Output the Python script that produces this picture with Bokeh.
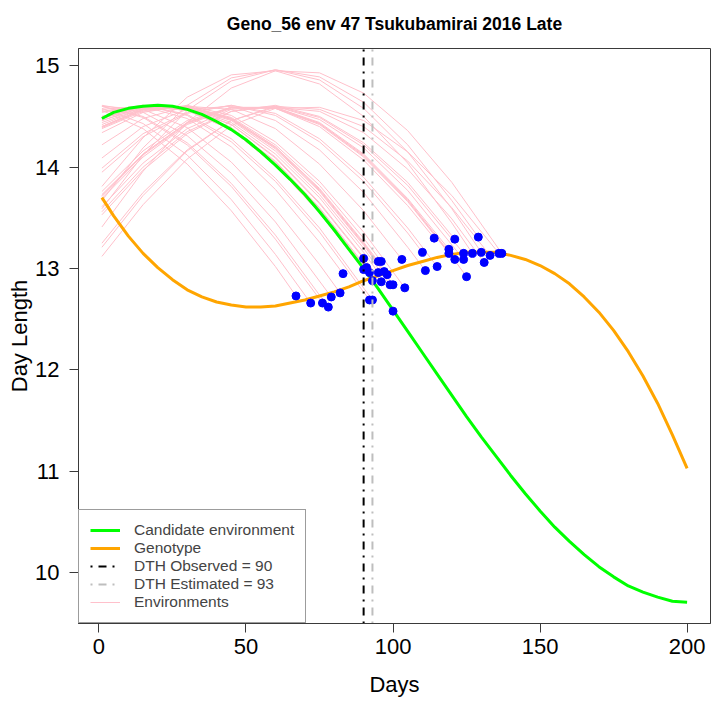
from bokeh.plotting import figure
from bokeh.models import Range1d, FixedTicker, Legend, LegendItem
from bokeh.embed import file_html
from bokeh.resources import INLINE

# ---------------- data ----------------
title_text = "Geno_56 env 47 Tsukubamirai 2016 Late"

curve_days = [1, 5, 10, 15, 20, 25, 30, 35, 40, 45, 50, 55, 60, 65, 70, 75, 80, 85, 90, 95, 100,
              105, 110, 115, 120, 125, 130, 135, 140, 145, 150, 155, 160, 165, 170, 175, 180,
              185, 190, 195, 200]
candidate_dl = [14.48, 14.54, 14.58, 14.60, 14.61, 14.60, 14.57, 14.52, 14.45, 14.37, 14.27,
                14.15, 14.02, 13.88, 13.73, 13.56, 13.38, 13.19, 13.00, 12.80, 12.59,
                12.38, 12.17, 11.96, 11.75, 11.54, 11.34, 11.15, 10.96, 10.78, 10.61,
                10.45, 10.31, 10.18, 10.06, 9.96, 9.87, 9.81, 9.76, 9.72, 9.71]
genotype_dl = [13.70, 13.52, 13.32, 13.15, 13.01, 12.89, 12.79, 12.72, 12.67, 12.64, 12.62,
               12.62, 12.63, 12.66, 12.69, 12.73, 12.77, 12.82, 12.88, 12.93, 12.98,
               13.03, 13.07, 13.11, 13.14, 13.16, 13.16, 13.16, 13.13, 13.09, 13.03,
               12.95, 12.85, 12.72, 12.57, 12.39, 12.18, 11.94, 11.67, 11.36, 11.03]

# environment curves: day length at these days (until heading), then the heading point
env_days = [1, 15, 30, 45, 60, 75, 90, 105, 120]
env_dl = [
    [14.56, 14.38, 14.03, 13.57, 13.02],
    [14.58, 14.43, 14.12, 13.68, 13.14],
    [14.60, 14.49, 14.22, 13.81, 13.29],
    [14.60, 14.50, 14.24, 13.84, 13.33],
    [14.61, 14.54, 14.31, 13.94, 13.46],
    [14.60, 14.57, 14.39, 14.05, 13.59, 13.04],
    [14.57, 14.60, 14.48, 14.20, 13.78, 13.26],
    [14.46, 14.59, 14.58, 14.42, 14.09, 13.64],
    [14.50, 14.60, 14.56, 14.37, 14.02, 13.55],
    [14.48, 14.60, 14.57, 14.39, 14.06, 13.60],
    [14.48, 14.60, 14.57, 14.39, 14.05, 13.59],
    [14.49, 14.60, 14.56, 14.37, 14.02, 13.56],
    [14.55, 14.61, 14.51, 14.25, 13.86, 13.36],
    [14.54, 14.61, 14.52, 14.28, 13.89, 13.40],
    [14.39, 14.56, 14.60, 14.48, 14.20, 13.79, 13.26],
    [14.38, 14.55, 14.60, 14.49, 14.22, 13.82, 13.30],
    [14.44, 14.58, 14.59, 14.44, 14.13, 13.70, 13.16],
    [14.46, 14.59, 14.58, 14.42, 14.10, 13.65, 13.11],
    [14.40, 14.57, 14.60, 14.47, 14.19, 13.77, 13.24],
    [14.40, 14.57, 14.60, 14.48, 14.20, 13.78, 13.25],
    [14.42, 14.58, 14.59, 14.46, 14.16, 13.73, 13.20],
    [14.40, 14.57, 14.60, 14.47, 14.18, 13.76, 13.23],
    [14.22, 14.48, 14.60, 14.57, 14.38, 14.03, 13.57],
    [14.34, 14.54, 14.61, 14.51, 14.25, 13.86, 13.36],
    [14.50, 14.60, 14.56, 14.37, 14.02, 13.55, 12.99],
    [13.99, 14.33, 14.54, 14.61, 14.51, 14.25, 13.86, 13.35],
    [14.09, 14.40, 14.57, 14.60, 14.46, 14.17, 13.75, 13.21],
    [13.76, 14.16, 14.46, 14.59, 14.58, 14.40, 14.07, 13.62],
    [13.95, 14.30, 14.53, 14.61, 14.53, 14.28, 13.90, 13.40],
    [13.69, 14.10, 14.42, 14.58, 14.59, 14.44, 14.13, 13.69],
    [13.73, 14.13, 14.44, 14.59, 14.58, 14.42, 14.10, 13.66],
    [13.53, 13.97, 14.33, 14.55, 14.61, 14.50, 14.24, 13.85],
    [13.71, 14.12, 14.43, 14.59, 14.59, 14.43, 14.12, 13.68],
    [13.56, 14.00, 14.35, 14.55, 14.60, 14.49, 14.22, 13.82],
    [13.61, 14.04, 14.38, 14.57, 14.60, 14.47, 14.19, 13.77],
    [13.72, 14.13, 14.44, 14.59, 14.58, 14.43, 14.11, 13.67, 13.12],
    [13.81, 14.29, 14.69, 14.91, 14.95, 14.82, 14.50, 14.04, 13.45],
    [13.59, 14.12, 14.56, 14.85, 14.96, 14.89, 14.64, 14.22, 13.67],
    [13.67, 14.19, 14.61, 14.88, 14.96, 14.86, 14.58, 14.15, 13.59],
    [13.21, 13.72, 14.16, 14.46, 14.59, 14.55, 14.34, 13.98, 13.49],
    [13.25, 13.75, 14.17, 14.46, 14.60, 14.57, 14.40, 14.06, 13.60],
    [13.12, 13.63, 14.08, 14.41, 14.58, 14.59, 14.46, 14.15, 13.72],
    [13.41, 13.96, 14.44, 14.78, 14.95, 14.93, 14.73, 14.36, 13.85],
]
# heading day and day length at heading of each environment (blue points)
dth = [67, 72, 76, 78, 79, 82, 83, 90, 90, 91, 92, 93, 92, 93, 95, 96, 95, 96, 97, 98,
       99, 100, 103, 104, 100, 110, 111, 114, 115, 119, 119, 121, 121, 124, 124, 125, 127,
       129, 130, 131, 133, 136, 137]
dl_at_dth = [12.73, 12.66, 12.66, 12.62, 12.72, 12.76, 12.95, 13.10, 12.99, 13.01, 12.96,
             12.88, 12.69, 12.69, 13.07, 13.07, 12.96, 12.87, 12.97, 12.94, 12.84, 12.84,
             13.09, 12.81, 12.58, 13.16, 12.98, 13.30, 13.02, 13.19, 13.15, 13.29, 13.09,
             13.15, 13.09, 12.92, 13.15, 13.31, 13.16, 13.06, 13.13, 13.15, 13.15]

dth_observed = 90
dth_estimated = 93

x_ticks = [0, 50, 100, 150, 200]
y_ticks = [10, 11, 12, 13, 14, 15]
x_lim = (-6.96, 207.96)
y_lim = (9.50, 15.17)

legend_labels = ["Candidate environment", "Genotype", "DTH Observed = 90",
                 "DTH Estimated = 93", "Environments"]

# ---------------- figure ----------------
FONT = "Liberation Sans"
BOX = "#3a3a3a"

p = figure(width=712, height=701, output_backend="svg", toolbar_location=None,
           x_range=Range1d(*x_lim), y_range=Range1d(*y_lim),
           min_border_left=78, min_border_right=2, min_border_top=47, min_border_bottom=78)
p.grid.visible = False
p.background_fill_color = "white"
p.border_fill_color = "white"
p.outline_line_color = BOX
p.outline_line_width = 1

p.title.text = title_text
p.title.align = "center"
p.title.vertical_align = "top"
p.title.standoff = 26
p.title.text_font = FONT
p.title.text_font_size = "17.5px"
p.title.text_font_style = "bold"
p.title.text_color = "black"

for ax in (p.xaxis[0], p.yaxis[0]):
    ax.axis_line_color = BOX
    ax.major_tick_line_color = BOX
    ax.major_tick_out = 9
    ax.major_tick_in = 0
    ax.minor_tick_line_color = None
    ax.major_label_text_font = FONT
    ax.major_label_text_font_size = "22px"
    ax.major_label_text_color = "black"
    ax.axis_label_text_font = FONT
    ax.axis_label_text_font_size = "22px"
    ax.axis_label_text_font_style = "normal"
    ax.axis_label_text_color = "black"
p.xaxis.ticker = FixedTicker(ticks=x_ticks)
p.yaxis.ticker = FixedTicker(ticks=y_ticks)
p.xaxis.axis_label = "Days"
p.yaxis.axis_label = "Day Length"
p.xaxis.major_label_standoff = 6
p.yaxis.major_label_standoff = 10
p.xaxis.axis_label_standoff = 15
p.yaxis.axis_label_standoff = 0

# environments
env_xs = [env_days[:len(v)] + [d] for v, d in zip(env_dl, dth)]
env_ys = [list(v) + [y] for v, y in zip(env_dl, dl_at_dth)]
r_env = p.multi_line(env_xs, env_ys, line_color="#FFC0CB", line_width=1)

r_cand = p.line(curve_days, candidate_dl, line_color="#00FF00", line_width=3)
r_geno = p.line(curve_days, genotype_dl, line_color="#FFA500", line_width=3)

p.scatter(dth, dl_at_dth, size=8, marker="circle", fill_color="#0000FF", line_color="#0000FF")

DASH = "2 6 8 6"
r_obs = p.line([dth_observed, dth_observed], list(y_lim), line_color="black",
               line_width=2, line_dash=DASH)
r_est = p.line([dth_estimated, dth_estimated], list(y_lim), line_color="#BEBEBE",
               line_width=2, line_dash=DASH)

legend = Legend(items=[LegendItem(label=legend_labels[0], renderers=[r_cand]),
                       LegendItem(label=legend_labels[1], renderers=[r_geno]),
                       LegendItem(label=legend_labels[2], renderers=[r_obs]),
                       LegendItem(label=legend_labels[3], renderers=[r_est]),
                       LegendItem(label=legend_labels[4], renderers=[r_env])],
                location="bottom_left", margin=0, padding=11, spacing=0,
                glyph_width=30, glyph_height=18, label_height=18, label_standoff=14,
                label_text_font=FONT, label_text_font_size="15.5px",
                border_line_color=BOX, border_line_width=1,
                background_fill_color="white", background_fill_alpha=1)
p.add_layout(legend)

open("out.html", "w").write(file_html(p, INLINE))
